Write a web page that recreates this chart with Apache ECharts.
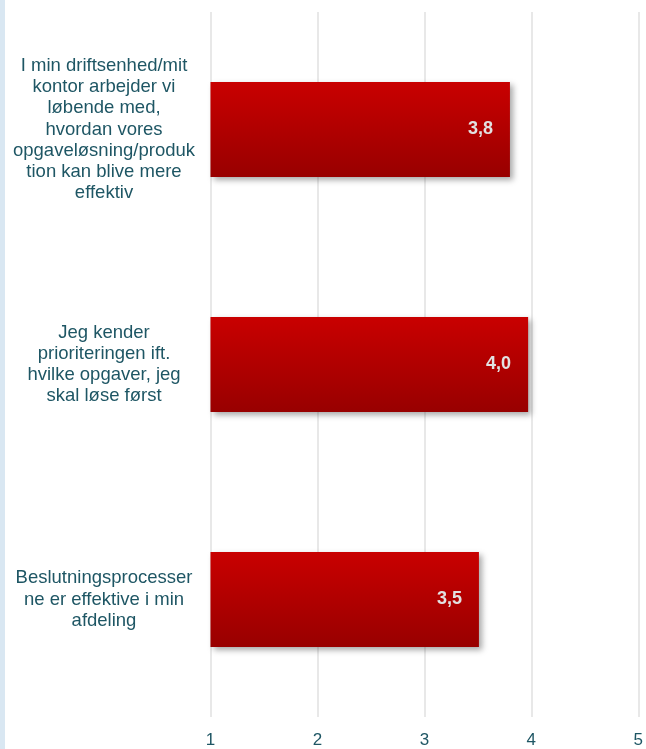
<!DOCTYPE html>
<html><head><meta charset="utf-8">
<script src="https://cdn.jsdelivr.net/npm/echarts@6/dist/echarts.min.js"></script>
<style>html,body{margin:0;padding:0;background:#fff}#c{width:646px;height:749px}</style>
</head><body><div id="c"></div>
<script>
const categories = [
  "I min driftsenhed/mit\nkontor arbejder vi\nløbende med,\nhvordan vores\nopgaveløsning/produk\ntion kan blive mere\neffektiv",
  "Jeg kender\nprioriteringen ift.\nhvilke opgaver, jeg\nskal løse først",
  "Beslutningsprocesser\nne er effektive i min\nafdeling"
];
const values = [3.8, 3.97, 3.51];
const tickMin = 1, tickMax = 5, tickInterval = 1;

const chart = echarts.init(document.getElementById('c'), null, {renderer: 'canvas'});
chart.setOption({
  animation: false,
  backgroundColor: '#ffffff',
  graphic: [{type: 'rect', left: 0, top: 0, shape: {width: 5, height: 749}, style: {fill: '#d9e7f2'}, z: 10}],
  grid: {left: 210.5, right: 6, top: 12, bottom: 30, containLabel: false},
  xAxis: {
    type: 'value', min: tickMin, max: tickMax, interval: tickInterval,
    axisLine: {show: false}, axisTick: {show: false},
    splitLine: {show: true, lineStyle: {color: '#e8e8e8', width: 2}},
    axisLabel: {color: '#1e5664', fontSize: 17, fontFamily: 'Liberation Sans, Arial', margin: 15}
  },
  yAxis: {
    type: 'category', data: categories, inverse: true,
    axisLine: {show: false}, axisTick: {show: false}, splitLine: {show: false},
    axisLabel: {color: '#1e5664', fontSize: 18.5, fontFamily: 'Liberation Sans, Arial', align: 'center', margin: 106.5, lineHeight: 21.2}
  },
  series: [{
    type: 'bar', data: values, barWidth: '40.5%',
    itemStyle: {
      color: new echarts.graphic.LinearGradient(0, 0, 0, 1, [{offset: 0, color: '#c90000'}, {offset: 1, color: '#980000'}]),
      shadowColor: 'rgba(0,0,0,0.35)', shadowBlur: 6, shadowOffsetX: 3, shadowOffsetY: 3
    },
    label: {
      show: true, position: 'insideRight', distance: 17,
      color: '#e2e2e2', fontWeight: 'bold', fontSize: 18, fontFamily: 'Liberation Sans, Arial',
      formatter: p => p.value.toFixed(1).replace('.', ',')
    }
  }]
});
</script></body></html>
